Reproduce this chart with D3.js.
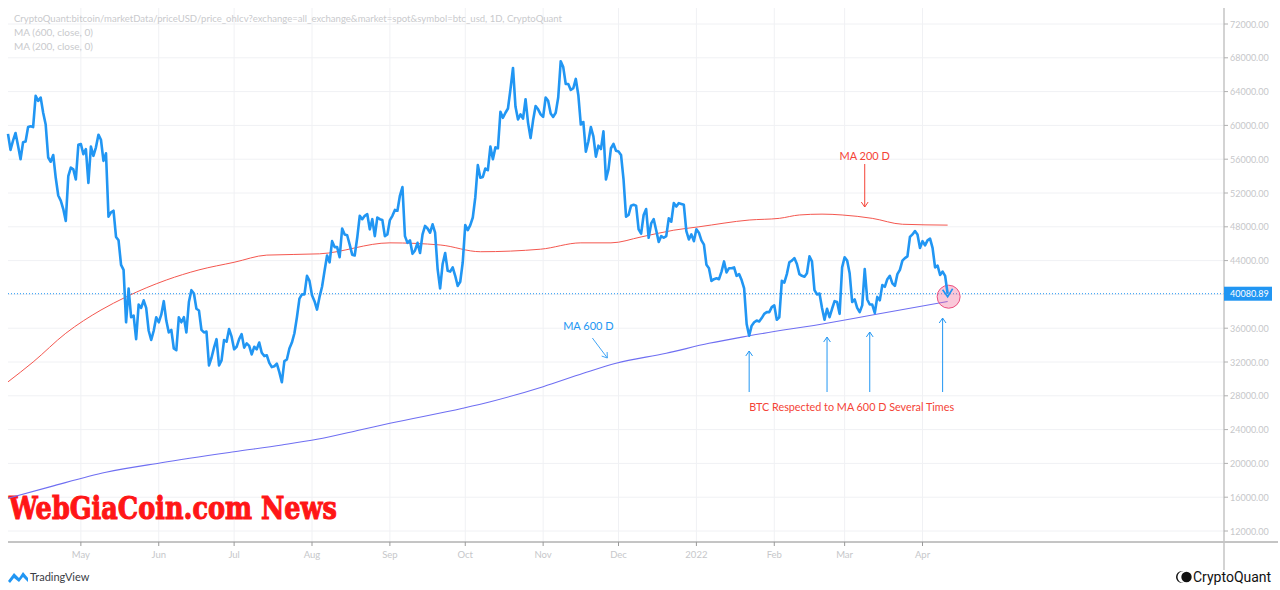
<!DOCTYPE html>
<html>
<head>
<meta charset="utf-8">
<script src="https://cdn.jsdelivr.net/npm/d3@7"></script>
<style>
html,body{margin:0;padding:0;background:#fff;}
svg{display:block;}
</style>
</head>
<body>
<svg id="chart" width="1280" height="590"></svg>
<script>
// ---------------- DATA ----------------
const startDate = "2021-04-02"; // first daily close
// daily closes (USD), Apr 2 2021 .. Apr 11 2022
const priceApr21 = [59000,57100,58200,59100,57600,56000,58000,58100,59800,59900,59800,63500,62900,63300,61500,60100,56200,55700,56500,53800,51700,51100,50100,48700,54000,55000,54800,53600,57700];
const priceMay21 = [57800,56600,57200,53200,57500,56400,57400,58900,58300,55800,56700,49200,49700,49900,46800,46400,43500,42900,36700,40700,37300,37500,34700,38800,38400,39300,38400,35700,34600,35700,37300];
const priceJun21 = [36700,37600,39200,36900,35500,35800,33600,33400,37300,36700,37300,35500,39100,40500,40100,38300,38100,35800,35500,35600,31600,32500,33700,34700,31600,32200,34600,34400,35900,35000];
const priceJul21 = [33500,33800,34700,35300,33700,34200,33900,32900,33800,33500,34300,33100,32700,32800,31900,31400,31500,31800,30800,29600,32100,32300,33600,34300,35400,37300,39500,40000,40000,42200,41600];
const priceAug21 = [39900,39200,38200,39700,40900,42800,44600,43800,46300,45600,45600,44400,47800,47100,47000,45900,44700,44600,46700,49300,48900,49300,49500,47700,48900,46900,49100,48900,48800,46900,47100];
const priceSep21 = [48800,49300,50000,49900,51700,52700,46900,46100,46400,44800,45200,46100,44900,47100,48100,47800,47300,48300,47300,43000,40700,43600,44900,42800,42700,43200,42200,41000,41500,43800];
const priceOct21 = [48200,47600,48200,49100,51500,55300,53800,53900,54900,54700,57500,56000,57400,57300,61600,60900,61500,62000,64300,66800,62200,60700,61300,60800,63100,60300,58500,60600,62300,61900,61300];
const priceNov21 = [61000,63300,62900,61400,61000,61500,63300,67600,66900,64900,64900,64200,64400,65500,63600,60100,60400,56900,58100,59800,58700,56300,57600,57200,59300,53600,54800,57300,57800,57000];
const priceDec21 = [56900,56500,53600,49200,49400,50500,50600,50500,47700,47200,49400,50100,46700,48400,48900,47600,46200,46900,46700,46900,49000,48600,50800,50400,50800,50700,50600,47500,46500,47100,46300];
const priceJan22 = [47700,47300,46400,45900,43500,43100,41600,41800,41900,41800,42700,43900,42600,43100,43100,43200,42200,42400,41700,40700,36500,35100,36300,36700,36900,36800,37200,37700,37900,37900,38500];
const priceFeb22 = [38700,37000,37300,41600,41400,42400,43800,44000,44300,43600,42400,42200,42100,42500,44500,43900,40500,40000,40100,38400,37000,38300,37300,38300,39200,39100,37700,43200];
const priceMar22 = [44400,44000,42500,39100,39400,38400,37900,38700,43000,39400,38800,38800,37800,39700,39300,41100,40900,41800,42200,41300,41000,42400,42900,44000,44300,44500,46800,47100,47500,47100,45500];
const priceApr22 = [46300,45800,46400,46600,45500,43200,43400,42300,42700,42200,40080.89];

// MA 200 (close) read at sample dates
const ma200Dates = ["2021-04-02","2021-04-12","2021-04-25","2021-05-09","2021-05-19","2021-06-04","2021-06-17","2021-07-01","2021-07-14","2021-08-04","2021-09-01","2021-09-21","2021-10-07","2021-10-31","2021-11-16","2021-11-28","2021-12-10","2021-12-23","2022-01-02","2022-01-22","2022-02-03","2022-02-11","2022-02-20","2022-02-28","2022-03-12","2022-03-24","2022-04-11"];
const ma200Values = [29650,32000,35400,38150,39700,41700,42900,43800,44650,44800,46100,45850,45050,45350,46100,46100,46800,47600,48000,48800,49000,49400,49500,49400,49000,48300,48200];

// MA 600 (close) read at sample dates
const ma600Dates = ["2021-04-02","2021-04-19","2021-05-11","2021-06-02","2021-07-01","2021-07-20","2021-08-03","2021-08-20","2021-09-01","2021-09-30","2021-10-11","2021-11-01","2021-11-17","2021-11-30","2021-12-20","2022-01-06","2022-01-22","2022-02-23","2022-03-12","2022-04-11"];
const ma600Values = [15870,17250,18950,20080,21380,22180,22850,23950,24750,26530,27300,29080,30660,31850,33030,34210,35100,36650,37560,39150];

// axis ticks
const yTicks = [12000,16000,20000,24000,28000,32000,36000,44000,48000,52000,56000,60000,64000,68000,72000];
const yGridTicks = [12000,16000,20000,24000,28000,32000,36000,40000,44000,48000,52000,56000,60000,64000,68000,72000];
const monthTickDates = ["2021-05-01","2021-06-01","2021-07-01","2021-08-01","2021-09-01","2021-10-01","2021-11-01","2021-12-01","2022-01-01","2022-02-01","2022-03-01","2022-04-01"];
const monthTickLabels = ["May","Jun","Jul","Aug","Sep","Oct","Nov","Dec","2022","Feb","Mar","Apr"];

const lastPrice = 40080.89;
const headerLines = ["CryptoQuant:bitcoin/marketData/priceUSD/price_ohlcv?exchange=all_exchange&market=spot&symbol=btc_usd, 1D, CryptoQuant","MA (600, close, 0)","MA (200, close, 0)"];

// annotation arrows (date, top value)
const touchDates = ["2022-01-22","2022-02-22","2022-03-11","2022-04-09"];
const touchTops = [33300,34950,35550,37200];

// ---------------- CHART ----------------
const parse = d3.timeParse("%Y-%m-%d");
const allPrices = [].concat(priceApr21,priceMay21,priceJun21,priceJul21,priceAug21,priceSep21,priceOct21,priceNov21,priceDec21,priceJan22,priceFeb22,priceMar22,priceApr22);
const d0 = parse(startDate);
const priceData = allPrices.map((v,i)=>({date:d3.timeDay.offset(d0,i), v}));
const ma200 = ma200Dates.map((d,i)=>({date:parse(d), v:ma200Values[i]}));
const ma600 = ma600Dates.map((d,i)=>({date:parse(d), v:ma600Values[i]}));

const pL=8, pR=1224, pT=8, pB=542;
const x = d3.scaleTime().domain([d0, parse("2022-07-30")]).range([pL,pR]);
const y = d3.scaleLinear().domain([12000,72000]).range([531,24]);

const svg = d3.select("#chart");
const font = "Lato, 'Open Sans', sans-serif";

// grid
const grid = svg.append("g");
grid.selectAll("line.h").data(yGridTicks).enter().append("line")
  .attr("x1",pL).attr("x2",pR).attr("y1",d=>y(d)).attr("y2",d=>y(d))
  .attr("stroke","#f0f1f4").attr("stroke-width",1);
grid.selectAll("line.v").data(monthTickDates).enter().append("line")
  .attr("x1",d=>x(parse(d))).attr("x2",d=>x(parse(d))).attr("y1",pT).attr("y2",pB)
  .attr("stroke","#f0f1f4").attr("stroke-width",1);

// header text
svg.selectAll("text.hdr").data(headerLines).enter().append("text")
  .attr("x",14).attr("y",(d,i)=>22+i*14)
  .attr("font-family",font).attr("font-size",10).attr("fill","#c9cacd")
  .each(function(d,i){ if(i===0){ d3.select(this).attr("textLength",548).attr("lengthAdjust","spacingAndGlyphs"); } })
  .text(d=>d);

// watermark
svg.append("text").attr("x",9).attr("y",519)
  .attr("font-family","'DejaVu Serif','DejaVu Serif Condensed',serif").attr("font-weight","bold")
  .attr("font-size",32).attr("fill","#ff1616").attr("stroke","#ff1616").attr("stroke-width",1.1)
  .attr("textLength",328).attr("lengthAdjust","spacingAndGlyphs")
  .text("WebGiaCoin.com News");

// MA lines
const line = d3.line().x(d=>x(d.date)).y(d=>y(d.v));
const smooth = d3.line().x(d=>x(d.date)).y(d=>y(d.v)).curve(d3.curveMonotoneX);
svg.append("path").datum(ma600).attr("d",smooth).attr("fill","none").attr("stroke","#6f6ff2").attr("stroke-width",1.1);
svg.append("path").datum(ma200).attr("d",smooth).attr("fill","none").attr("stroke","#f4574f").attr("stroke-width",1);

// last price dotted line
svg.append("line").attr("x1",pL).attr("x2",pR).attr("y1",y(lastPrice)).attr("y2",y(lastPrice))
  .attr("stroke","#2196f3").attr("stroke-width",1).attr("stroke-dasharray","1,2");

// circle highlight
const lastDate = priceData[priceData.length-1].date;
svg.append("circle").attr("cx",x(lastDate)+1).attr("cy",y(lastPrice)+3).attr("r",11.5)
  .attr("fill","rgba(240,98,146,0.35)").attr("stroke","#ec4f80").attr("stroke-width",1);

// price line
svg.append("path").datum(priceData).attr("d",line).attr("fill","none")
  .attr("stroke","#2196f3").attr("stroke-width",2.6).attr("stroke-linejoin","round");

// small arrowhead at end of price
const ex=x(lastDate), ey=y(lastPrice)+3;
svg.append("path").attr("d",`M${ex-5},${ey-7} L${ex},${ey} L${ex+5},${ey-8}`)
  .attr("fill","none").attr("stroke","#2196f3").attr("stroke-width",1.6);

// axes
svg.append("line").attr("x1",pL).attr("x2",1278).attr("y1",pB).attr("y2",pB).attr("stroke","#8a8a8a").attr("stroke-width",1);
svg.append("line").attr("x1",pR).attr("x2",pR).attr("y1",pT).attr("y2",570).attr("stroke","#c4c4c4").attr("stroke-width",1.5);

svg.selectAll("line.yt").data(yTicks).enter().append("line")
  .attr("x1",pR).attr("x2",pR+4).attr("y1",d=>y(d)).attr("y2",d=>y(d)).attr("stroke","#b0b0b0");
svg.selectAll("text.yl").data(yTicks).enter().append("text")
  .attr("x",pR+6).attr("y",d=>y(d)+3.5)
  .attr("font-family",font).attr("font-size",9).attr("fill","#c6c7ca")
  .text(d=>d3.format(".2f")(d));

svg.selectAll("line.xt").data(monthTickDates).enter().append("line")
  .attr("x1",d=>x(parse(d))).attr("x2",d=>x(parse(d))).attr("y1",pB).attr("y2",pB+4).attr("stroke","#9a9a9a");
svg.selectAll("text.xl").data(monthTickDates).enter().append("text")
  .attr("x",d=>x(parse(d))).attr("y",558).attr("text-anchor","middle")
  .attr("font-family",font).attr("font-size",9.5).attr("fill","#c6c7ca")
  .text((d,i)=>monthTickLabels[i]);

// last price label
svg.append("rect").attr("x",pR).attr("y",y(lastPrice)-7).attr("width",48).attr("height",14).attr("fill","#2196f3");
svg.append("text").attr("x",pR+6).attr("y",y(lastPrice)+3.5)
  .attr("font-family",font).attr("font-size",9).attr("fill","#ffffff").text(d3.format(".2f")(lastPrice));

// annotations
function arrow(x1,y1,x2,y2,color){
  svg.append("line").attr("x1",x1).attr("y1",y1).attr("x2",x2).attr("y2",y2).attr("stroke",color).attr("stroke-width",1);
  const a=Math.atan2(y2-y1,x2-x1), L=6, s=0.6;
  const p1=[x2-L*Math.cos(a-s), y2-L*Math.sin(a-s)], p2=[x2-L*Math.cos(a+s), y2-L*Math.sin(a+s)];
  svg.append("path").attr("d",`M${p1[0]},${p1[1]} L${x2},${y2} L${p2[0]},${p2[1]}`).attr("fill","none").attr("stroke",color).attr("stroke-width",1);
}
// MA 200 D
const ma200LabelDate = parse("2022-03-09");
svg.append("text").attr("x",x(ma200LabelDate)).attr("y",160).attr("text-anchor","middle")
  .attr("font-family",font).attr("font-size",11).attr("fill","#f44336").text("MA 200 D");
arrow(x(ma200LabelDate),164,x(ma200LabelDate),207,"#f44336");
// MA 600 D
const ma600LabelDate = parse("2021-11-19");
svg.append("text").attr("x",x(ma600LabelDate)).attr("y",330).attr("text-anchor","middle")
  .attr("font-family",font).attr("font-size",11).attr("fill","#2196f3").text("MA 600 D");
arrow(x(ma600LabelDate)+4,338,x(ma600LabelDate)+19,358,"#42a5f5");
// up arrows
touchDates.forEach((d,i)=>{ arrow(x(parse(d)),392,x(parse(d)),y(touchTops[i]),"#2196f3"); });
svg.append("text").attr("x",x(parse(touchDates[0]))).attr("y",411)
  .attr("font-family",font).attr("font-size",10.8).attr("fill","#f44336")
  .attr("textLength",205).attr("lengthAdjust","spacingAndGlyphs")
  .text("BTC Respected to MA 600 D Several Times");

// TradingView logo
svg.append("path").attr("d","M8,581 L14,573 L19,578 L23,572 L28,578 L28,582 L23,577 L19,582 L14,578 L10,583 Z").attr("fill","#2196f3");
svg.append("text").attr("x",30).attr("y",581).attr("font-family",font).attr("font-size",11).attr("fill","#3a3d45").text("TradingView");

// CryptoQuant logo
svg.append("path").attr("d","M1182,571 A6,6 0 0 0 1182,583 L1183.5,583 A6,6 0 0 1 1183.5,571 Z").attr("fill","#111");
svg.append("circle").attr("cx",1186.5).attr("cy",577).attr("r",5.2).attr("fill","#111");
svg.append("text").attr("x",1193).attr("y",582).attr("font-family","Roboto, 'Open Sans', sans-serif").attr("font-size",14).attr("fill","#111").text("CryptoQuant");
</script>
</body>
</html>
